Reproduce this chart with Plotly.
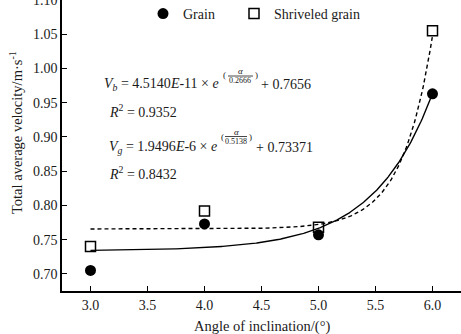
import numpy as np
import plotly.graph_objects as go

# ---- data ----
angles = [3.0, 4.0, 5.0, 6.0]
grain = [0.705, 0.773, 0.757, 0.963]
shriveled = [0.740, 0.792, 0.768, 1.055]

# fitted curves: V = A * exp(angle / C) + D  (as printed on the chart)
vb_fit = dict(A=4.5140e-11, C=0.2660, D=0.7656)   # dashed curve (shriveled grain)
vg_fit = dict(A=1.9496e-6, C=0.5138, D=0.73371)   # solid curve (grain)

x_ticks = [3.0, 3.5, 4.0, 4.5, 5.0, 5.5, 6.0]
y_ticks = [0.70, 0.75, 0.80, 0.85, 0.90, 0.95, 1.00, 1.05, 1.10]

FONT = "Liberation Serif, Times New Roman, serif"
TXT = "#1a1a1a"
W, H = 461, 334
ML, MR, MT, MB = 62, 0, 0, 43
PW, PH = W - ML - MR, H - MT - MB


def px(x):
    return (x - ML) / PW


def py(y):
    return (H - MB - y) / PH


xs = np.linspace(3.0, 6.0, 301)
vg_curve = vg_fit["A"] * np.exp(xs / vg_fit["C"]) + vg_fit["D"]
vb_curve = vb_fit["A"] * np.exp(xs / vb_fit["C"]) + vb_fit["D"]

fig = go.Figure()
fig.add_trace(go.Scatter(x=xs, y=vg_curve, mode="lines", showlegend=False,
                         line=dict(color="black", width=1.4), hoverinfo="skip"))
fig.add_trace(go.Scatter(x=xs, y=vb_curve, mode="lines", showlegend=False,
                         line=dict(color="black", width=1.4, dash="4px,3px"), hoverinfo="skip"))
fig.add_trace(go.Scatter(x=angles, y=grain, mode="markers", name="Grain", legend="legend",
                         marker=dict(symbol="circle", size=11, color="black")))
fig.add_trace(go.Scatter(x=angles, y=shriveled, mode="markers", name="Shriveled grain",
                         legend="legend2",
                         marker=dict(symbol="square-open", size=10, color="black",
                                     line=dict(width=1.5, color="black"))))

annotations = []


def ann(text, x, y, size=14, xanchor="left"):
    annotations.append(dict(text=text, x=px(x), y=py(y), xref="paper", yref="paper",
                            xanchor=xanchor, yanchor="middle", showarrow=False,
                            font=dict(family=FONT, size=size, color=TXT)))


# Vb equation
ann("<i>V</i><sub><i>b</i></sub> = 4.5140<i>E</i>-11 × <i>e</i>", 221, 85, xanchor="right")
ann("(", 224, 75, size=9, xanchor="center")
ann("<i>α</i>", 240, 71, size=9, xanchor="center")
ann("0.2666", 240, 80, size=8, xanchor="center")
ann(")", 256, 75, size=9, xanchor="center")
ann("+ 0.7656", 259, 85)
ann("<i>R</i><sup>2</sup> = 0.9352", 107, 111)
# Vg equation
ann("<i>V</i><sub><i>g</i></sub> = 1.9496<i>E</i>-6 × <i>e</i>", 219, 147, xanchor="right")
ann("(", 222, 137, size=9, xanchor="center")
ann("<i>α</i>", 236, 132, size=9, xanchor="center")
ann("0.5138", 236, 141, size=8, xanchor="center")
ann(")", 250, 137, size=9, xanchor="center")
ann("+ 0.73371", 254, 147)
ann("<i>R</i><sup>2</sup> = 0.8432", 107, 173)

shapes = [
    dict(type="line", xref="paper", yref="paper", x0=px(228), x1=px(253), y0=py(76), y1=py(76),
         line=dict(color=TXT, width=0.8)),
    dict(type="line", xref="paper", yref="paper", x0=px(225), x1=px(247), y0=py(136.5), y1=py(136.5),
         line=dict(color=TXT, width=0.8)),
]

# axis titles
annotations.append(dict(text="Total average velocity/m·s<sup>-1</sup>", x=px(16), y=py(133),
                        xref="paper", yref="paper", textangle=-90, showarrow=False,
                        xanchor="center", yanchor="middle",
                        font=dict(family=FONT, size=14.5, color=TXT)))
annotations.append(dict(text="Angle of inclination/(°)", x=px(262), y=py(326),
                        xref="paper", yref="paper", showarrow=False,
                        xanchor="center", yanchor="middle",
                        font=dict(family=FONT, size=14.5, color=TXT)))

leg_common = dict(orientation="h", xanchor="left", yanchor="middle",
                  font=dict(family=FONT, size=14, color=TXT), bgcolor="rgba(0,0,0,0)",
                  borderwidth=0)

fig.update_layout(
    width=W, height=H,
    margin=dict(l=ML, r=MR, t=MT, b=MB, autoexpand=False),
    paper_bgcolor="white", plot_bgcolor="white",
    font=dict(family=FONT, size=14, color=TXT),
    annotations=annotations, shapes=shapes,
    legend=dict(x=px(143), y=py(14), **leg_common),
    legend2=dict(x=px(234), y=py(14), **leg_common),
    xaxis=dict(range=[2.75, 6.25], tickvals=x_ticks, ticktext=[f"{v:.1f}" for v in x_ticks],
               ticks="inside", ticklen=5, tickwidth=1.2, tickcolor="black",
               showline=True, linecolor="black", linewidth=1.5, showgrid=False, zeroline=False,
               automargin=False, tickfont=dict(family=FONT, size=14)),
    yaxis=dict(range=[0.675, 1.1], tickvals=y_ticks, ticktext=[f"{v:.2f}" for v in y_ticks],
               ticks="inside", ticklen=5, tickwidth=1.2, tickcolor="black",
               showline=True, linecolor="black", linewidth=1.5, showgrid=False, zeroline=False,
               ticklabeloverflow="allow", automargin=False,
               tickfont=dict(family=FONT, size=14)),
)

fig.write_html("out.html")
